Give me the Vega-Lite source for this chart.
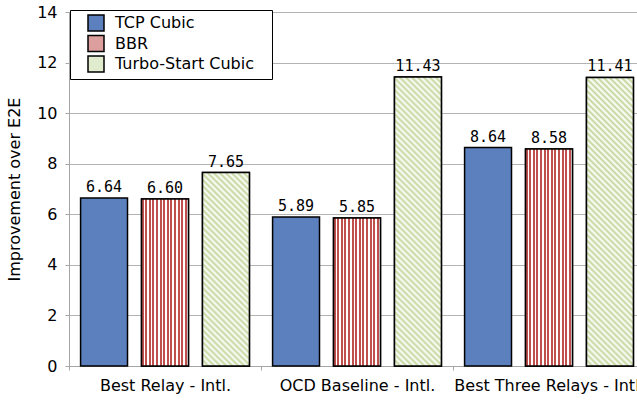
{
  "$schema": "https://vega.github.io/schema/vega-lite/v6.json",
  "width": 576,
  "height": 354,
  "autosize": "none",
  "padding": {"left": 69, "top": 12, "right": 0, "bottom": 34},
  "background": "white",
  "data": {
    "values": [
      {"group": "Best Relay - Intl.", "series": "TCP Cubic", "value": 6.64},
      {"group": "Best Relay - Intl.", "series": "BBR", "value": 6.60},
      {"group": "Best Relay - Intl.", "series": "Turbo-Start Cubic", "value": 7.65},
      {"group": "OCD Baseline - Intl.", "series": "TCP Cubic", "value": 5.89},
      {"group": "OCD Baseline - Intl.", "series": "BBR", "value": 5.85},
      {"group": "OCD Baseline - Intl.", "series": "Turbo-Start Cubic", "value": 11.43},
      {"group": "Best Three Relays - Intl.", "series": "TCP Cubic", "value": 8.64},
      {"group": "Best Three Relays - Intl.", "series": "BBR", "value": 8.58},
      {"group": "Best Three Relays - Intl.", "series": "Turbo-Start Cubic", "value": 11.41}
    ]
  },
  "encoding": {
    "x": {
      "field": "group", "type": "nominal",
      "scale": {"domain": ["Best Relay - Intl.", "OCD Baseline - Intl.", "Best Three Relays - Intl."], "paddingInner": 0, "paddingOuter": 0},
      "axis": {"title": null, "labelAngle": 0, "labelFont": "DejaVu Sans", "labelFontSize": 16, "labelColor": "black", "labelPadding": 7, "tickSize": 4, "tickBand": "extent", "domainColor": "#a6a6a6", "tickColor": "#a6a6a6", "grid": false, "labelLimit": 300}
    },
    "xOffset": {
      "field": "series", "type": "nominal",
      "scale": {"domain": ["TCP Cubic", "BBR", "Turbo-Start Cubic"], "paddingInner": 0.23, "paddingOuter": 0.19}
    },
    "y": {
      "field": "value", "type": "quantitative",
      "scale": {"domain": [0, 14], "nice": false},
      "axis": {"values": [0, 2, 4, 6, 8, 10, 12, 14], "title": "Improvement over E2E", "titleFont": "DejaVu Sans", "titleFontSize": 16, "titleFontWeight": "normal", "titleColor": "black", "titlePadding": 14, "labelFont": "DejaVu Sans", "labelFontSize": 16, "labelColor": "black", "labelPadding": 8, "tickSize": 4, "tickColor": "#a6a6a6", "domainColor": "#a6a6a6", "gridColor": "#b3b3b3", "grid": true}
    }
  },
  "layer": [
    {
      "mark": {"type": "bar", "stroke": "black", "strokeWidth": 1.5},
      "encoding": {
        "fill": {
          "field": "series", "type": "nominal",
          "scale": {"domain": ["TCP Cubic", "BBR", "Turbo-Start Cubic"], "range": ["#5c7fbd", "#dc9f9d", "#e1ebcd"]},
          "legend": {
            "orient": "none", "legendX": 1, "legendY": -2,
            "title": "\u00a0", "titleOrient": "right", "titlePadding": 14, "titleFontSize": 4,
            "strokeColor": "black", "fillColor": "white", "padding": 4,
            "symbolType": "square", "symbolSize": 256, "symbolStrokeColor": "black", "symbolStrokeWidth": 1.5, "symbolOffset": 13,
            "labelFont": "DejaVu Sans", "labelFontSize": 16, "labelColor": "black", "labelOffset": 10, "rowPadding": -1.5, "labelLimit": 300
          }
        }
      }
    },
    {
      "transform": [{"filter": "datum.series === 'BBR'"}],
      "mark": {"type": "bar", "stroke": "black", "strokeWidth": 1.5, "fill": {"gradient": "linear", "x1": 0, "y1": 0, "x2": 1, "y2": 0, "stops": [
        {"offset": 0, "color": "#c0504d"}, {"offset": 0.0423, "color": "#c0504d"}, {"offset": 0.0423, "color": "#ffffff"}, {"offset": 0.0769, "color": "#ffffff"},
        {"offset": 0.0769, "color": "#c0504d"}, {"offset": 0.1192, "color": "#c0504d"}, {"offset": 0.1192, "color": "#ffffff"}, {"offset": 0.1538, "color": "#ffffff"},
        {"offset": 0.1538, "color": "#c0504d"}, {"offset": 0.1962, "color": "#c0504d"}, {"offset": 0.1962, "color": "#ffffff"}, {"offset": 0.2308, "color": "#ffffff"},
        {"offset": 0.2308, "color": "#c0504d"}, {"offset": 0.2731, "color": "#c0504d"}, {"offset": 0.2731, "color": "#ffffff"}, {"offset": 0.3077, "color": "#ffffff"},
        {"offset": 0.3077, "color": "#c0504d"}, {"offset": 0.35, "color": "#c0504d"}, {"offset": 0.35, "color": "#ffffff"}, {"offset": 0.3846, "color": "#ffffff"},
        {"offset": 0.3846, "color": "#c0504d"}, {"offset": 0.4269, "color": "#c0504d"}, {"offset": 0.4269, "color": "#ffffff"}, {"offset": 0.4615, "color": "#ffffff"},
        {"offset": 0.4615, "color": "#c0504d"}, {"offset": 0.5038, "color": "#c0504d"}, {"offset": 0.5038, "color": "#ffffff"}, {"offset": 0.5385, "color": "#ffffff"},
        {"offset": 0.5385, "color": "#c0504d"}, {"offset": 0.5808, "color": "#c0504d"}, {"offset": 0.5808, "color": "#ffffff"}, {"offset": 0.6154, "color": "#ffffff"},
        {"offset": 0.6154, "color": "#c0504d"}, {"offset": 0.6577, "color": "#c0504d"}, {"offset": 0.6577, "color": "#ffffff"}, {"offset": 0.6923, "color": "#ffffff"},
        {"offset": 0.6923, "color": "#c0504d"}, {"offset": 0.7346, "color": "#c0504d"}, {"offset": 0.7346, "color": "#ffffff"}, {"offset": 0.7692, "color": "#ffffff"},
        {"offset": 0.7692, "color": "#c0504d"}, {"offset": 0.8115, "color": "#c0504d"}, {"offset": 0.8115, "color": "#ffffff"}, {"offset": 0.8462, "color": "#ffffff"},
        {"offset": 0.8462, "color": "#c0504d"}, {"offset": 0.8885, "color": "#c0504d"}, {"offset": 0.8885, "color": "#ffffff"}, {"offset": 0.9231, "color": "#ffffff"},
        {"offset": 0.9231, "color": "#c0504d"}, {"offset": 0.9654, "color": "#c0504d"}, {"offset": 0.9654, "color": "#ffffff"}, {"offset": 1, "color": "#ffffff"}
      ]}}
    },
    {
      "transform": [{"filter": "datum.series === 'Turbo-Start Cubic' && datum.group === 'Best Relay - Intl.'"}],
      "mark": {"type": "bar", "stroke": "black", "strokeWidth": 1.5, "fill": {"gradient": "linear", "x1": 0, "y1": 1, "x2": 0.2852, "y2": -0.1737, "stops": [
        {"offset": 0, "color": "#c3d69b"}, {"offset": 0.0125, "color": "#ffffff"}, {"offset": 0.025, "color": "#c3d69b"}, {"offset": 0.0375, "color": "#ffffff"},
        {"offset": 0.05, "color": "#c3d69b"}, {"offset": 0.0625, "color": "#ffffff"}, {"offset": 0.075, "color": "#c3d69b"}, {"offset": 0.0875, "color": "#ffffff"},
        {"offset": 0.1, "color": "#c3d69b"}, {"offset": 0.1125, "color": "#ffffff"}, {"offset": 0.125, "color": "#c3d69b"}, {"offset": 0.1375, "color": "#ffffff"},
        {"offset": 0.15, "color": "#c3d69b"}, {"offset": 0.1625, "color": "#ffffff"}, {"offset": 0.175, "color": "#c3d69b"}, {"offset": 0.1875, "color": "#ffffff"},
        {"offset": 0.2, "color": "#c3d69b"}, {"offset": 0.2125, "color": "#ffffff"}, {"offset": 0.225, "color": "#c3d69b"}, {"offset": 0.2375, "color": "#ffffff"},
        {"offset": 0.25, "color": "#c3d69b"}, {"offset": 0.2625, "color": "#ffffff"}, {"offset": 0.275, "color": "#c3d69b"}, {"offset": 0.2875, "color": "#ffffff"},
        {"offset": 0.3, "color": "#c3d69b"}, {"offset": 0.3125, "color": "#ffffff"}, {"offset": 0.325, "color": "#c3d69b"}, {"offset": 0.3375, "color": "#ffffff"},
        {"offset": 0.35, "color": "#c3d69b"}, {"offset": 0.3625, "color": "#ffffff"}, {"offset": 0.375, "color": "#c3d69b"}, {"offset": 0.3875, "color": "#ffffff"},
        {"offset": 0.4, "color": "#c3d69b"}, {"offset": 0.4125, "color": "#ffffff"}, {"offset": 0.425, "color": "#c3d69b"}, {"offset": 0.4375, "color": "#ffffff"},
        {"offset": 0.45, "color": "#c3d69b"}, {"offset": 0.4625, "color": "#ffffff"}, {"offset": 0.475, "color": "#c3d69b"}, {"offset": 0.4875, "color": "#ffffff"},
        {"offset": 0.5, "color": "#c3d69b"}, {"offset": 0.5125, "color": "#ffffff"}, {"offset": 0.525, "color": "#c3d69b"}, {"offset": 0.5375, "color": "#ffffff"},
        {"offset": 0.55, "color": "#c3d69b"}, {"offset": 0.5625, "color": "#ffffff"}, {"offset": 0.575, "color": "#c3d69b"}, {"offset": 0.5875, "color": "#ffffff"},
        {"offset": 0.6, "color": "#c3d69b"}, {"offset": 0.6125, "color": "#ffffff"}, {"offset": 0.625, "color": "#c3d69b"}, {"offset": 0.6375, "color": "#ffffff"},
        {"offset": 0.65, "color": "#c3d69b"}, {"offset": 0.6625, "color": "#ffffff"}, {"offset": 0.675, "color": "#c3d69b"}, {"offset": 0.6875, "color": "#ffffff"},
        {"offset": 0.7, "color": "#c3d69b"}, {"offset": 0.7125, "color": "#ffffff"}, {"offset": 0.725, "color": "#c3d69b"}, {"offset": 0.7375, "color": "#ffffff"},
        {"offset": 0.75, "color": "#c3d69b"}, {"offset": 0.7625, "color": "#ffffff"}, {"offset": 0.775, "color": "#c3d69b"}, {"offset": 0.7875, "color": "#ffffff"},
        {"offset": 0.8, "color": "#c3d69b"}, {"offset": 0.8125, "color": "#ffffff"}, {"offset": 0.825, "color": "#c3d69b"}, {"offset": 0.8375, "color": "#ffffff"},
        {"offset": 0.85, "color": "#c3d69b"}, {"offset": 0.8625, "color": "#ffffff"}, {"offset": 0.875, "color": "#c3d69b"}, {"offset": 0.8875, "color": "#ffffff"},
        {"offset": 0.9, "color": "#c3d69b"}, {"offset": 0.9125, "color": "#ffffff"}, {"offset": 0.925, "color": "#c3d69b"}, {"offset": 0.9375, "color": "#ffffff"},
        {"offset": 0.95, "color": "#c3d69b"}, {"offset": 0.9625, "color": "#ffffff"}, {"offset": 0.975, "color": "#c3d69b"}, {"offset": 0.9875, "color": "#ffffff"},
        {"offset": 1, "color": "#c3d69b"}
      ]}}
    },
    {
      "transform": [{"filter": "datum.series === 'Turbo-Start Cubic' && datum.group !== 'Best Relay - Intl.'"}],
      "mark": {"type": "bar", "stroke": "black", "strokeWidth": 1.5, "fill": {"gradient": "linear", "x1": 0, "y1": 1, "x2": 0.1842, "y2": -0.1327, "stops": [
        {"offset": 0, "color": "#c3d69b"}, {"offset": 0.0089, "color": "#ffffff"}, {"offset": 0.0179, "color": "#c3d69b"}, {"offset": 0.0268, "color": "#ffffff"},
        {"offset": 0.0357, "color": "#c3d69b"}, {"offset": 0.0446, "color": "#ffffff"}, {"offset": 0.0536, "color": "#c3d69b"}, {"offset": 0.0625, "color": "#ffffff"},
        {"offset": 0.0714, "color": "#c3d69b"}, {"offset": 0.0804, "color": "#ffffff"}, {"offset": 0.0893, "color": "#c3d69b"}, {"offset": 0.0982, "color": "#ffffff"},
        {"offset": 0.1071, "color": "#c3d69b"}, {"offset": 0.1161, "color": "#ffffff"}, {"offset": 0.125, "color": "#c3d69b"}, {"offset": 0.1339, "color": "#ffffff"},
        {"offset": 0.1429, "color": "#c3d69b"}, {"offset": 0.1518, "color": "#ffffff"}, {"offset": 0.1607, "color": "#c3d69b"}, {"offset": 0.1696, "color": "#ffffff"},
        {"offset": 0.1786, "color": "#c3d69b"}, {"offset": 0.1875, "color": "#ffffff"}, {"offset": 0.1964, "color": "#c3d69b"}, {"offset": 0.2054, "color": "#ffffff"},
        {"offset": 0.2143, "color": "#c3d69b"}, {"offset": 0.2232, "color": "#ffffff"}, {"offset": 0.2321, "color": "#c3d69b"}, {"offset": 0.2411, "color": "#ffffff"},
        {"offset": 0.25, "color": "#c3d69b"}, {"offset": 0.2589, "color": "#ffffff"}, {"offset": 0.2679, "color": "#c3d69b"}, {"offset": 0.2768, "color": "#ffffff"},
        {"offset": 0.2857, "color": "#c3d69b"}, {"offset": 0.2946, "color": "#ffffff"}, {"offset": 0.3036, "color": "#c3d69b"}, {"offset": 0.3125, "color": "#ffffff"},
        {"offset": 0.3214, "color": "#c3d69b"}, {"offset": 0.3304, "color": "#ffffff"}, {"offset": 0.3393, "color": "#c3d69b"}, {"offset": 0.3482, "color": "#ffffff"},
        {"offset": 0.3571, "color": "#c3d69b"}, {"offset": 0.3661, "color": "#ffffff"}, {"offset": 0.375, "color": "#c3d69b"}, {"offset": 0.3839, "color": "#ffffff"},
        {"offset": 0.3929, "color": "#c3d69b"}, {"offset": 0.4018, "color": "#ffffff"}, {"offset": 0.4107, "color": "#c3d69b"}, {"offset": 0.4196, "color": "#ffffff"},
        {"offset": 0.4286, "color": "#c3d69b"}, {"offset": 0.4375, "color": "#ffffff"}, {"offset": 0.4464, "color": "#c3d69b"}, {"offset": 0.4554, "color": "#ffffff"},
        {"offset": 0.4643, "color": "#c3d69b"}, {"offset": 0.4732, "color": "#ffffff"}, {"offset": 0.4821, "color": "#c3d69b"}, {"offset": 0.4911, "color": "#ffffff"},
        {"offset": 0.5, "color": "#c3d69b"}, {"offset": 0.5089, "color": "#ffffff"}, {"offset": 0.5179, "color": "#c3d69b"}, {"offset": 0.5268, "color": "#ffffff"},
        {"offset": 0.5357, "color": "#c3d69b"}, {"offset": 0.5446, "color": "#ffffff"}, {"offset": 0.5536, "color": "#c3d69b"}, {"offset": 0.5625, "color": "#ffffff"},
        {"offset": 0.5714, "color": "#c3d69b"}, {"offset": 0.5804, "color": "#ffffff"}, {"offset": 0.5893, "color": "#c3d69b"}, {"offset": 0.5982, "color": "#ffffff"},
        {"offset": 0.6071, "color": "#c3d69b"}, {"offset": 0.6161, "color": "#ffffff"}, {"offset": 0.625, "color": "#c3d69b"}, {"offset": 0.6339, "color": "#ffffff"},
        {"offset": 0.6429, "color": "#c3d69b"}, {"offset": 0.6518, "color": "#ffffff"}, {"offset": 0.6607, "color": "#c3d69b"}, {"offset": 0.6696, "color": "#ffffff"},
        {"offset": 0.6786, "color": "#c3d69b"}, {"offset": 0.6875, "color": "#ffffff"}, {"offset": 0.6964, "color": "#c3d69b"}, {"offset": 0.7054, "color": "#ffffff"},
        {"offset": 0.7143, "color": "#c3d69b"}, {"offset": 0.7232, "color": "#ffffff"}, {"offset": 0.7321, "color": "#c3d69b"}, {"offset": 0.7411, "color": "#ffffff"},
        {"offset": 0.75, "color": "#c3d69b"}, {"offset": 0.7589, "color": "#ffffff"}, {"offset": 0.7679, "color": "#c3d69b"}, {"offset": 0.7768, "color": "#ffffff"},
        {"offset": 0.7857, "color": "#c3d69b"}, {"offset": 0.7946, "color": "#ffffff"}, {"offset": 0.8036, "color": "#c3d69b"}, {"offset": 0.8125, "color": "#ffffff"},
        {"offset": 0.8214, "color": "#c3d69b"}, {"offset": 0.8304, "color": "#ffffff"}, {"offset": 0.8393, "color": "#c3d69b"}, {"offset": 0.8482, "color": "#ffffff"},
        {"offset": 0.8571, "color": "#c3d69b"}, {"offset": 0.8661, "color": "#ffffff"}, {"offset": 0.875, "color": "#c3d69b"}, {"offset": 0.8839, "color": "#ffffff"},
        {"offset": 0.8929, "color": "#c3d69b"}, {"offset": 0.9018, "color": "#ffffff"}, {"offset": 0.9107, "color": "#c3d69b"}, {"offset": 0.9196, "color": "#ffffff"},
        {"offset": 0.9286, "color": "#c3d69b"}, {"offset": 0.9375, "color": "#ffffff"}, {"offset": 0.9464, "color": "#c3d69b"}, {"offset": 0.9554, "color": "#ffffff"},
        {"offset": 0.9643, "color": "#c3d69b"}, {"offset": 0.9732, "color": "#ffffff"}, {"offset": 0.9821, "color": "#c3d69b"}, {"offset": 0.9911, "color": "#ffffff"},
        {"offset": 1, "color": "#c3d69b"}
      ]}}
    },
    {
      "mark": {"type": "text", "baseline": "alphabetic", "dy": -6, "font": "DejaVu Sans Mono", "fontSize": 15, "color": "black"},
      "encoding": {"text": {"field": "value", "type": "quantitative", "format": ".2f"}}
    }
  ],
  "config": {"view": {"stroke": null}}
}
